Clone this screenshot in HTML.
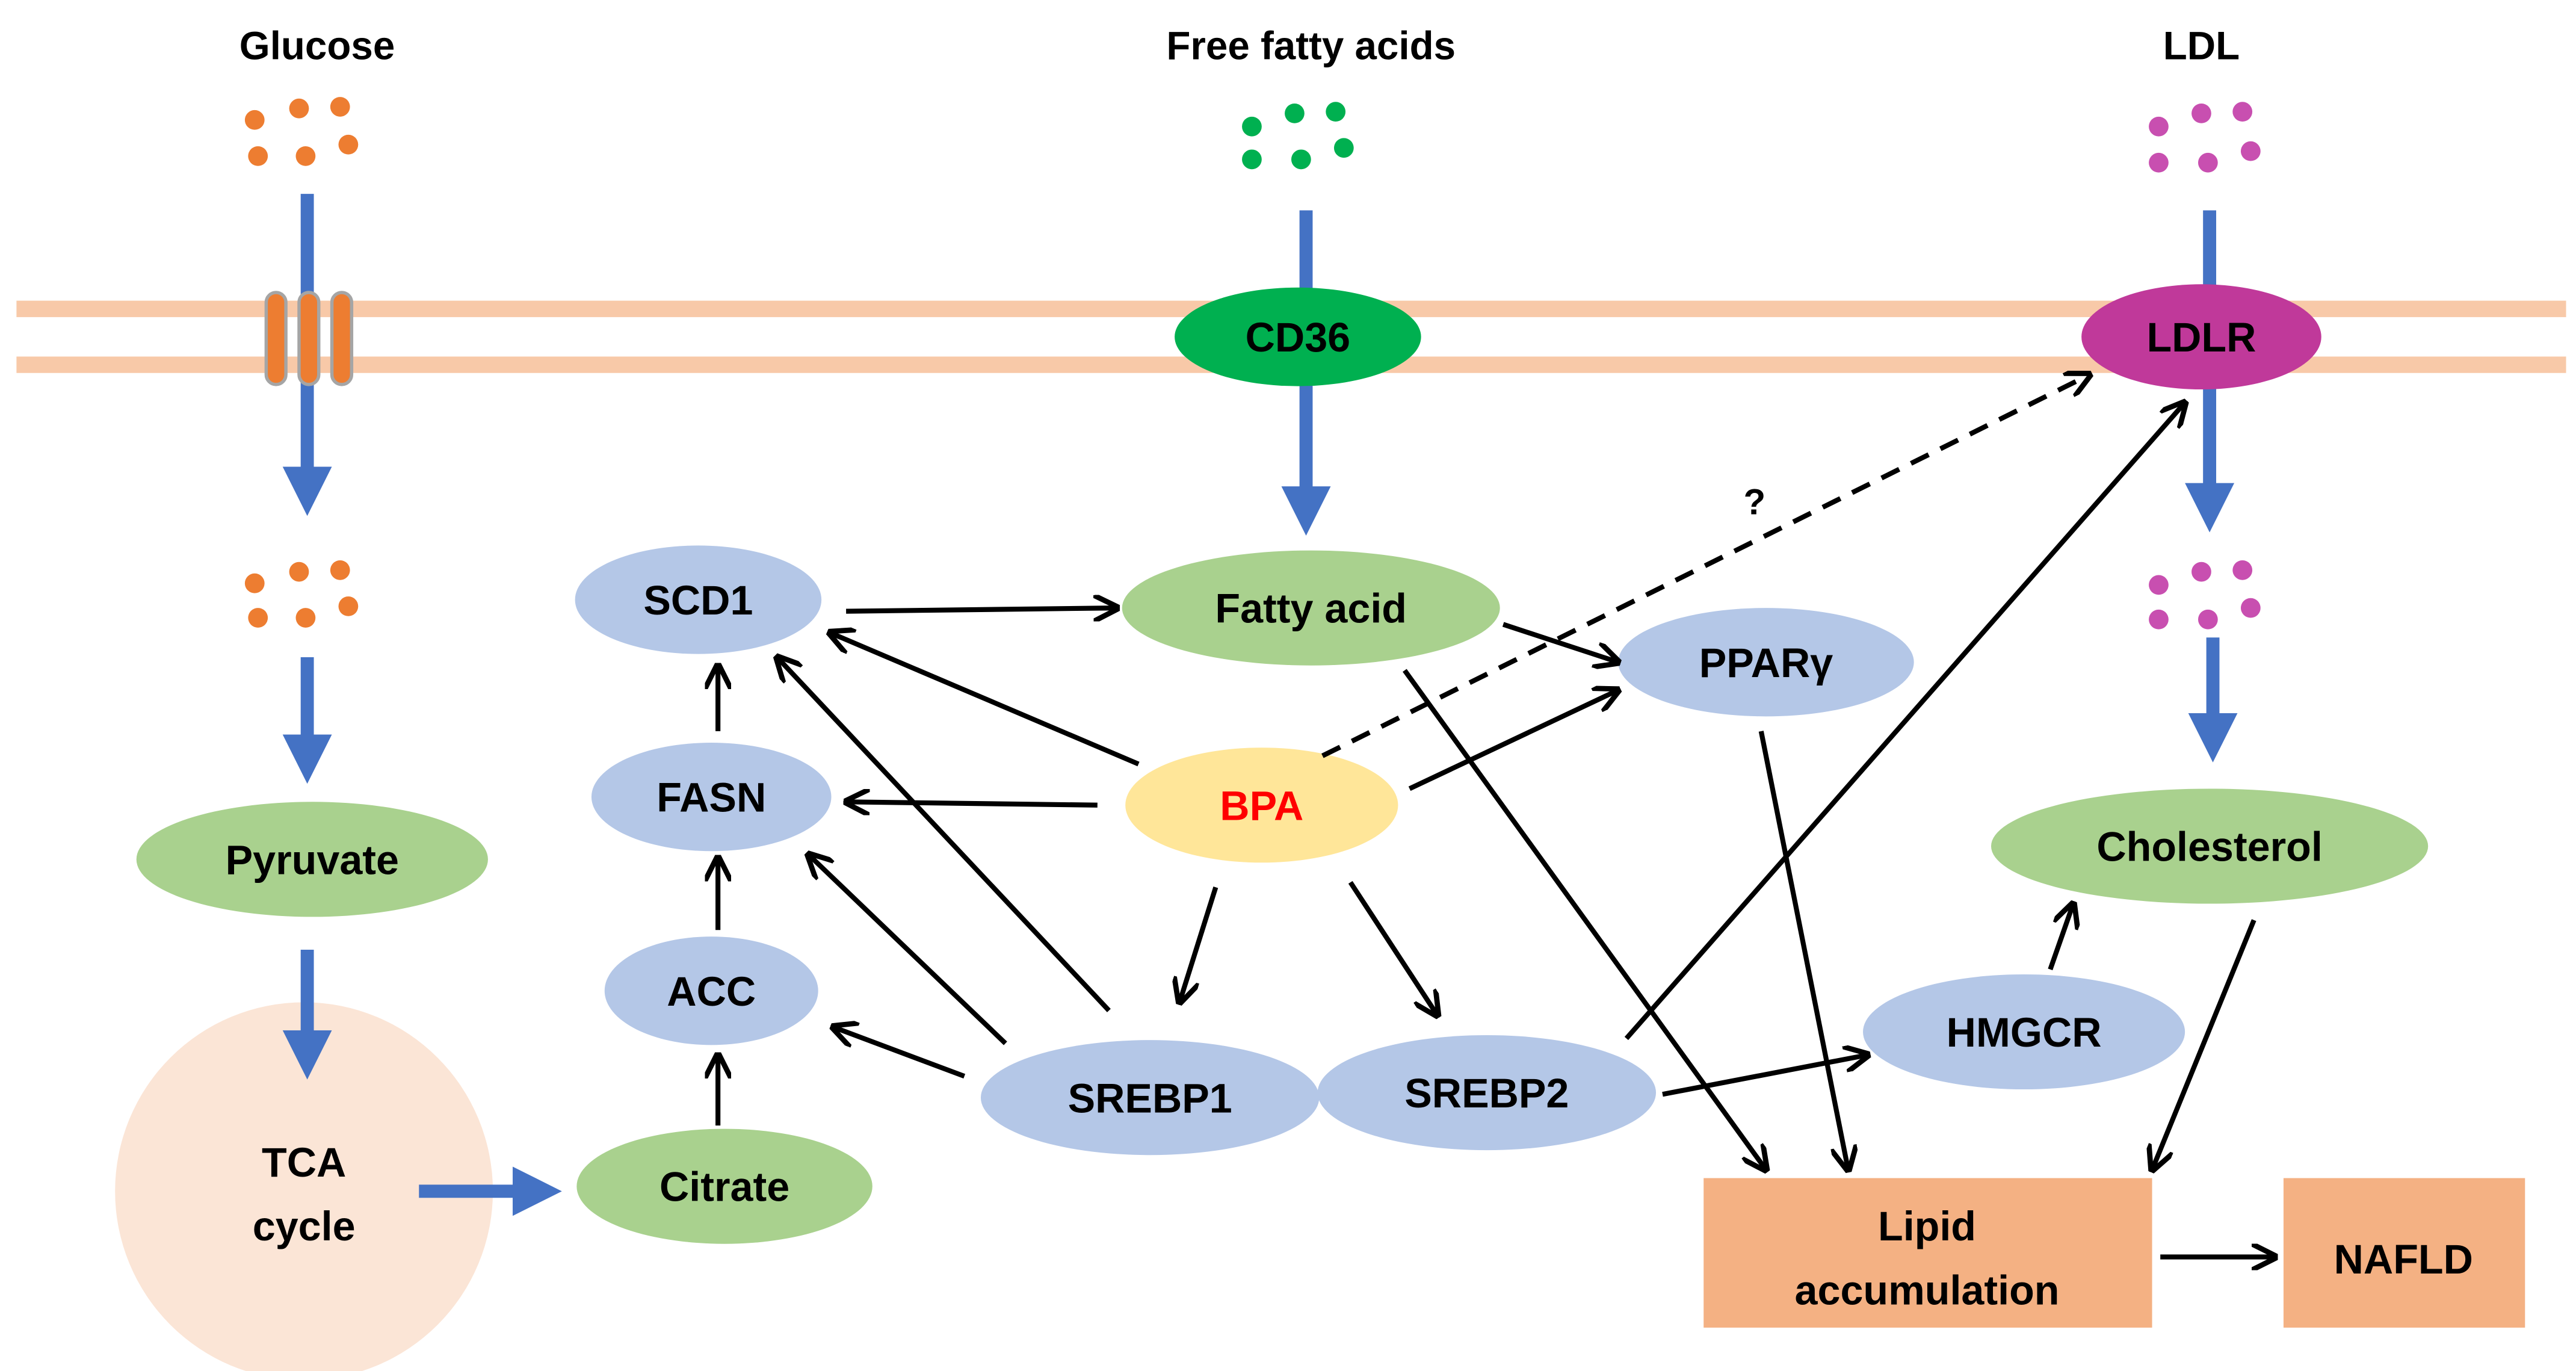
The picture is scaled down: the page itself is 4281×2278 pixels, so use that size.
<!DOCTYPE html>
<html><head><meta charset="utf-8"><style>
html,body{margin:0;padding:0;background:#fff;}
svg{display:block;}
text{font-family:"Liberation Sans",Arial,sans-serif;font-weight:bold;fill:#000;}
</style></head><body>
<svg width="4281" height="2278" viewBox="0 0 1568 834.4" xmlns="http://www.w3.org/2000/svg">
<defs>
<marker id="a" viewBox="0 0 10 10" refX="9" refY="5" markerWidth="16" markerHeight="16" markerUnits="userSpaceOnUse" orient="auto">
<path d="M0,0 L10,5 L0,10" fill="none" stroke="#000" stroke-width="2"/>
</marker>
<marker id="b" viewBox="0 0 10 10" refX="2" refY="5" markerWidth="30" markerHeight="30" markerUnits="userSpaceOnUse" orient="auto">
<path d="M0,0 L10,5 L0,10 Z" fill="#4472c4"/>
</marker>
</defs>
<rect width="1568" height="834.4" fill="#fff"/>
<rect x="10" y="183" width="1552" height="10" fill="#f8c9a8"/>
<rect x="10" y="217" width="1552" height="10" fill="#f8c9a8"/>
<text x="193" y="36" font-size="24" text-anchor="middle">Glucose</text>
<text x="798" y="36" font-size="24" text-anchor="middle">Free fatty acids</text>
<text x="1340" y="36" font-size="24" text-anchor="middle">LDL</text>
<g fill="#ed7d31">
<circle cx="155" cy="73" r="6"/><circle cx="182" cy="66" r="6"/><circle cx="207" cy="65" r="6"/>
<circle cx="157" cy="95" r="6"/><circle cx="186" cy="95" r="6"/><circle cx="212" cy="88" r="6"/>
<circle cx="155" cy="355" r="6"/><circle cx="182" cy="348" r="6"/><circle cx="207" cy="347" r="6"/>
<circle cx="157" cy="376" r="6"/><circle cx="186" cy="376" r="6"/><circle cx="212" cy="369" r="6"/>
</g>
<g fill="#00b050">
<circle cx="762" cy="77" r="6"/><circle cx="788" cy="69" r="6"/><circle cx="813" cy="68" r="6"/>
<circle cx="762" cy="97" r="6"/><circle cx="792" cy="97" r="6"/><circle cx="818" cy="90" r="6"/>
</g>
<g fill="#c84fb0">
<circle cx="1314" cy="77" r="6"/><circle cx="1340" cy="69" r="6"/><circle cx="1365" cy="68" r="6"/>
<circle cx="1314" cy="99" r="6"/><circle cx="1344" cy="99" r="6"/><circle cx="1370" cy="92" r="6"/>
<circle cx="1314" cy="356" r="6"/><circle cx="1340" cy="348" r="6"/><circle cx="1365" cy="347" r="6"/>
<circle cx="1314" cy="377" r="6"/><circle cx="1344" cy="377" r="6"/><circle cx="1370" cy="370" r="6"/>
</g>
<circle cx="185" cy="725" r="115" fill="#fbe5d6"/>
<g stroke="#4472c4" stroke-width="8" fill="none" marker-end="url(#b)">
<line x1="187" y1="118" x2="187" y2="290"/>
<line x1="187" y1="400" x2="187" y2="453"/>
<line x1="187" y1="578" x2="187" y2="633"/>
<line x1="255" y1="725" x2="318" y2="725"/>
<line x1="795" y1="128" x2="795" y2="302"/>
<line x1="1345" y1="128" x2="1345" y2="300"/>
<line x1="1347" y1="388" x2="1347" y2="440"/>
</g>
<g fill="#ed7d31" stroke="#a5a5a5" stroke-width="2">
<rect x="162" y="178" width="12" height="56" rx="6"/>
<rect x="182" y="178" width="12" height="56" rx="6"/>
<rect x="202" y="178" width="12" height="56" rx="6"/>
</g>
<ellipse cx="790" cy="205" rx="75" ry="30" fill="#00b050"/>
<text x="790" y="214" font-size="25" text-anchor="middle">CD36</text>
<ellipse cx="1340" cy="205" rx="73" ry="32" fill="#c0399a"/>
<text x="1340" y="214" font-size="25" text-anchor="middle">LDLR</text>
<g fill="#a9d18e">
<ellipse cx="190" cy="523" rx="107" ry="35"/>
<ellipse cx="441" cy="722" rx="90" ry="35"/>
<ellipse cx="798" cy="370" rx="115" ry="35"/>
<ellipse cx="1345" cy="515" rx="133" ry="35"/>
</g>
<g fill="#b4c7e7">
<ellipse cx="433" cy="603" rx="65" ry="33"/>
<ellipse cx="433" cy="485" rx="73" ry="33"/>
<ellipse cx="425" cy="365" rx="75" ry="33"/>
<ellipse cx="1075" cy="403" rx="90" ry="33"/>
<ellipse cx="700" cy="668" rx="103" ry="35"/>
<ellipse cx="905" cy="665" rx="103" ry="35"/>
<ellipse cx="1232" cy="628" rx="98" ry="35"/>
</g>
<ellipse cx="768" cy="490" rx="83" ry="35" fill="#ffe699"/>
<rect x="1037" y="717" width="273" height="91" fill="#f4b183"/>
<rect x="1390" y="717" width="147" height="91" fill="#f4b183"/>
<g font-size="25" text-anchor="middle">
<text x="190" y="532">Pyruvate</text>
<text x="185" y="716">TCA</text>
<text x="185" y="755">cycle</text>
<text x="441" y="731">Citrate</text>
<text x="433" y="612">ACC</text>
<text x="433" y="494">FASN</text>
<text x="425" y="374">SCD1</text>
<text x="798" y="379">Fatty acid</text>
<text x="1345" y="524">Cholesterol</text>
<text x="1075" y="412">PPARγ</text>
<text x="768" y="499" style="fill:#ff0000">BPA</text>
<text x="700" y="677">SREBP1</text>
<text x="905" y="674">SREBP2</text>
<text x="1232" y="637">HMGCR</text>
<text x="1173" y="755">Lipid</text>
<text x="1173" y="794">accumulation</text>
<text x="1463" y="775">NAFLD</text>
<text x="1068" y="313" font-size="22">?</text>
</g>
<g stroke="#000" stroke-width="3" fill="none" marker-end="url(#a)">
<line x1="437" y1="685" x2="437" y2="642"/>
<line x1="437" y1="566" x2="437" y2="522"/>
<line x1="437" y1="445" x2="437" y2="405"/>
<line x1="515" y1="372" x2="680" y2="370"/>
<line x1="915" y1="380" x2="985" y2="403"/>
<line x1="855" y1="408" x2="1075" y2="712"/>
<line x1="693" y1="465" x2="505" y2="385"/>
<line x1="668" y1="490" x2="515" y2="488"/>
<line x1="858" y1="480" x2="985" y2="420"/>
<line x1="740" y1="540" x2="718" y2="610"/>
<line x1="822" y1="537" x2="875" y2="618"/>
<line x1="675" y1="615" x2="473" y2="400"/>
<line x1="612" y1="635" x2="492" y2="520"/>
<line x1="587" y1="655" x2="507" y2="625"/>
<line x1="990" y1="632" x2="1330" y2="245"/>
<line x1="1012" y1="666" x2="1137" y2="642"/>
<line x1="1248" y1="590" x2="1262" y2="550"/>
<line x1="1072" y1="445" x2="1125" y2="712"/>
<line x1="1372" y1="560" x2="1310" y2="712"/>
<line x1="1315" y1="765" x2="1385" y2="765"/>
<line x1="805" y1="460" x2="1272" y2="228" stroke-dasharray="12,8"/>
</g>
</svg>
</body></html>
